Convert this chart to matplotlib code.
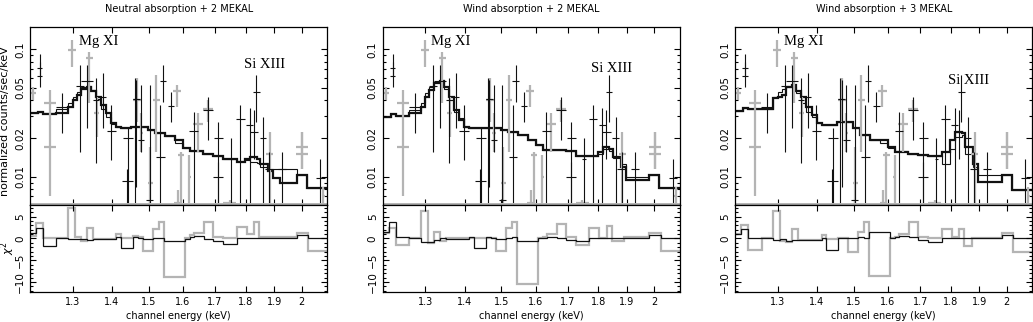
import numpy as np
import matplotlib
matplotlib.use("Agg")
import matplotlib.pyplot as plt
from matplotlib.ticker import FixedLocator, NullLocator, MultipleLocator

# --- spectra (same data in all three panels) ---
# black points: bin low/high edge (keV), value, error low/high (counts/s/keV)
blk_elo = [1.2163, 1.2163, 1.2606, 1.3090, 1.3213, 1.3505, 1.3676, 1.3863, 1.4290, 1.4263, 1.4562, 1.4700,
           1.4932, 1.5216, 1.5312, 1.5554, 1.4571, 1.6200, 1.6611, 1.6927, 1.6959, 1.7468, 1.7688, 1.8023,
           1.8136, 1.8251, 1.8482, 1.8657, 1.9130, 2.0561]
blk_ehi = [1.2286, 1.2286, 1.2887, 1.3296, 1.3505, 1.3676, 1.3849, 1.4112, 1.4562, 1.4562, 1.4700, 1.4885,
           1.5121, 1.5457, 1.5505, 1.5749, 1.4755, 1.6455, 1.6927, 1.7249, 1.7249, 1.7578, 1.7967, 1.8251,
           1.8424, 1.8482, 1.8716, 1.8952, 1.9432, 2.0886]
blk_val = [0.0617, 0.0709, 0.0355, 0.0515, 0.0564, 0.0400, 0.0425, 0.0228, 0.0200, 0.0092, 0.0407, 0.0194,
           0.0066, 0.0144, 0.0564, 0.0359, 0.0405, 0.0228, 0.0334, 0.0099, 0.0202, 0.0139, 0.0282, 0.0254,
           0.0226, 0.0465, 0.0202, 0.0116, 0.0116, 0.0097]
blk_lo = [0.0509, 0.0617, 0.0222, 0.0157, 0.0240, 0.0128, 0.0240, 0.0135, 0.0050, 0.0050, 0.0050, 0.0157,
          0.0050, 0.0050, 0.0388, 0.0270, 0.0083, 0.0050, 0.0194, 0.0050, 0.0050, 0.0050, 0.0050, 0.0050,
          0.0139, 0.0270, 0.0050, 0.0050, 0.0050, 0.0050]
blk_hi = [0.0913, 0.0800, 0.0451, 0.0753, 0.0753, 0.0592, 0.0648, 0.0365, 0.0240, 0.0116, 0.0592, 0.0525,
          0.0525, 0.0365, 0.0753, 0.0465, 0.0574, 0.0320, 0.0425, 0.0131, 0.0270, 0.0202, 0.0365, 0.0344,
          0.0334, 0.0629, 0.0296, 0.0157, 0.0157, 0.0139]

# grey points
gry_elo = [1.2000, 1.2317, 1.2317, 1.2894, 1.3338, 1.3548, 1.4562, 1.4746, 1.4979, 1.5121, 1.5710, 1.5749,
           1.5848, 1.6149, 1.6302, 1.6622, 1.7249, 1.8716, 1.9803, 1.9803, 2.0768]
gry_ehi = [1.2148, 1.2606, 1.2606, 1.3090, 1.3505, 1.3676, 1.4792, 1.4839, 1.5121, 1.5312, 1.5958, 1.5958,
           1.6048, 1.6251, 1.6611, 1.6938, 1.7688, 1.8952, 2.0243, 2.0243, 2.0886]
gry_val = [0.0451, 0.0377, 0.0172, 0.0988, 0.0859, 0.0314, 0.0400, 0.0220, 0.0090, 0.0400, 0.0474, 0.0062,
           0.0148, 0.0100, 0.0258, 0.0338, 0.0062, 0.0150, 0.0172, 0.0152, 0.0070]
gry_lo = [0.0400, 0.0296, 0.0070, 0.0731, 0.0377, 0.0206, 0.0270, 0.0157, 0.0050, 0.0157, 0.0355, 0.0050,
          0.0050, 0.0050, 0.0157, 0.0270, 0.0050, 0.0050, 0.0116, 0.0116, 0.0050]
gry_hi = [0.0509, 0.0480, 0.0296, 0.1184, 0.0960, 0.0425, 0.0592, 0.0314, 0.0172, 0.0629, 0.0525, 0.0079,
          0.0157, 0.0148, 0.0314, 0.0400, 0.0066, 0.0226, 0.0226, 0.0226, 0.0083]

# --- folded models (step curves) ---
model_edges = [1.2000, 1.2186, 1.2301, 1.2614, 1.2894, 1.3000, 1.3098, 1.3221, 1.3362, 1.3472, 1.3599,
               1.3728, 1.3858, 1.3989, 1.4121, 1.4254, 1.4525, 1.4989, 1.5178, 1.5466, 1.5759, 1.6008,
               1.6210, 1.6622, 1.6938, 1.7260, 1.7699, 1.7979, 1.8148, 1.8377, 1.8493, 1.8786, 1.8964,
               1.9203, 1.9816, 2.0192, 2.1000]

neutral2_thick = [0.0314, 0.0320, 0.0309, 0.0318, 0.0350, 0.0400, 0.0438, 0.0485, 0.0503, 0.0474, 0.0425,
                  0.0365, 0.0314, 0.0265, 0.0247, 0.0240, 0.0244, 0.0233, 0.0222, 0.0209, 0.0194, 0.0169,
                  0.0160, 0.0152, 0.0146, 0.0137, 0.0131, 0.0138, 0.0144, 0.0137, 0.0125, 0.0111, 0.0097,
                  0.0089, 0.0104, 0.0081]
neutral2_thin = [0.0314, 0.0320, 0.0314, 0.0338, 0.0377, 0.0425, 0.0465, 0.0509, 0.0515, 0.0480, 0.0405,
                 0.0338, 0.0292, 0.0259, 0.0244, 0.0240, 0.0244, 0.0233, 0.0222, 0.0209, 0.0185, 0.0167,
                 0.0160, 0.0152, 0.0146, 0.0137, 0.0134, 0.0135, 0.0131, 0.0129, 0.0120, 0.0114, 0.0114,
                 0.0114, 0.0104, 0.0081]
wind2_thick = [0.0296, 0.0309, 0.0301, 0.0314, 0.0350, 0.0425, 0.0479, 0.0541, 0.0568, 0.0503, 0.0425,
               0.0334, 0.0279, 0.0247, 0.0243, 0.0243, 0.0242, 0.0233, 0.0226, 0.0212, 0.0194, 0.0177,
               0.0162, 0.0162, 0.0160, 0.0145, 0.0145, 0.0157, 0.0172, 0.0164, 0.0144, 0.0120, 0.0094,
               0.0094, 0.0104, 0.0081]
wind2_thin = [0.0296, 0.0309, 0.0301, 0.0334, 0.0377, 0.0451, 0.0509, 0.0557, 0.0574, 0.0485, 0.0400,
              0.0324, 0.0287, 0.0247, 0.0243, 0.0243, 0.0242, 0.0233, 0.0226, 0.0212, 0.0194, 0.0177,
              0.0162, 0.0162, 0.0160, 0.0145, 0.0145, 0.0152, 0.0165, 0.0160, 0.0140, 0.0127, 0.0100,
              0.0100, 0.0104, 0.0081]
wind3_thick = [0.0328, 0.0344, 0.0338, 0.0338, 0.0417, 0.0425, 0.0438, 0.0503, 0.0525, 0.0474, 0.0425,
               0.0355, 0.0305, 0.0263, 0.0255, 0.0255, 0.0271, 0.0240, 0.0212, 0.0194, 0.0194, 0.0172,
               0.0157, 0.0151, 0.0148, 0.0145, 0.0157, 0.0194, 0.0226, 0.0219, 0.0172, 0.0127, 0.0091,
               0.0091, 0.0103, 0.0079]
wind3_thin = [0.0328, 0.0344, 0.0338, 0.0338, 0.0425, 0.0465, 0.0490, 0.0509, 0.0509, 0.0451, 0.0377,
              0.0320, 0.0292, 0.0263, 0.0255, 0.0255, 0.0271, 0.0240, 0.0212, 0.0194, 0.0185, 0.0167,
              0.0160, 0.0152, 0.0148, 0.0145, 0.0127, 0.0165, 0.0206, 0.0212, 0.0152, 0.0120, 0.0104,
              0.0104, 0.0103, 0.0079]

# --- residuals (sign * chi^2) ---
res_edges = [1.2000, 1.2148, 1.2301, 1.2614, 1.2894, 1.3057, 1.3221, 1.3362, 1.3514, 1.4121, 1.4254,
             1.4571, 1.4709, 1.4848, 1.5130, 1.5302, 1.5436, 1.6059, 1.6210, 1.6343, 1.6654, 1.6938,
             1.7260, 1.7699, 1.8035, 1.8285, 1.8470, 1.8727, 1.8905, 1.9816, 2.0256, 2.1000]

neutral2_res_blk = [1.15, 2.5, -1.7, 0.2, -0.2, -0.2, -0.2, -0.4, -0.1, 0.4, -2.1, 0.4, 0.2, -0.1, 0.2, 0.2,
                    -0.5, -0.1, 0.4, 0.6, -0.2, -0.5, -1.3, 0.0, 0.0, 0.0, 0.0, 0.2, 0.2, 0.85, 0.0]
neutral2_res_gry = [0.6, 3.5, 0.2, 0.2, 6.9, 0.4, -0.5, 2.4, -0.2, 1.0, 0.2, 0.6, 0.4, -2.8, 2.2, 3.7,
                    -8.8, 0.2, 0.8, 1.2, 3.7, 0.4, 0.0, 2.7, 1.0, 3.7, 0.4, 0.4, 0.4, 1.2, -2.8]
wind2_res_blk = [1.6, 3.7, 0.4, 0.0, -0.8, -0.8, -0.3, 0.0, -0.1, 0.3, -2.3, 0.3, 0.2, -0.1, 0.0, 0.3,
                 -0.6, 0.0, 0.2, 0.3, 0.0, -0.3, -0.5, 0.0, 0.0, 0.0, 0.0, 0.0, 0.2, 0.8, 0.0]
wind2_res_gry = [1.15, 2.5, -1.5, 0.0, 6.4, -1.0, 1.5, -0.5, 0.0, 0.0, 0.0, 0.2, 0.0, -2.8, 2.5, 3.7,
                 -10.5, 0.0, 0.4, 1.0, 3.3, 0.4, -1.5, 2.3, 0.2, 2.9, -0.5, -0.5, 0.4, 1.15, -2.8]
wind3_res_blk = [1.0, 2.2, 0.0, 0.0, -0.4, -0.2, -0.5, -0.3, -0.4, 0.2, -2.7, 0.2, 0.1, 0.0, 0.4, 0.2,
                 1.6, 0.0, 0.3, 0.5, 0.4, -0.4, -0.9, 0.0, 0.0, 0.0, 0.0, 0.1, 0.2, 0.8, 0.0]
wind3_res_gry = [1.0, 3.1, -2.7, 0.0, 6.4, -0.5, -0.9, 2.2, -0.4, 0.85, -0.2, 0.2, 0.0, -3.2, 1.6, 3.9,
                 -8.6, 0.0, 0.4, 1.0, 3.7, 0.4, 0.0, 2.2, 0.3, 2.2, -1.8, 0.0, 0.2, 1.2, -3.0]

titles = ["Neutral absorption + 2 MEKAL", "Wind absorption + 2 MEKAL", "Wind absorption + 3 MEKAL"]
models = [(neutral2_thick, neutral2_thin), (wind2_thick, wind2_thin), (wind3_thick, wind3_thin)]
resids = [(neutral2_res_blk, neutral2_res_gry), (wind2_res_blk, wind2_res_gry), (wind3_res_blk, wind3_res_gry)]
mg_pos = [(1.3156, 0.116), (1.3132, 0.115), (1.3156, 0.116)]
si_pos = [(1.7957, 0.0760), (1.7745, 0.0713), (1.7912, 0.0574)]

x_ticks = [1.3, 1.4, 1.5, 1.6, 1.7, 1.8, 1.9, 2.0]
x_ticklabels = ["1.3", "1.4", "1.5", "1.6", "1.7", "1.8", "1.9", "2"]

NARROW = ["Liberation Sans Narrow", "DejaVu Sans"]
BLACK = "#111111"
GREY = "#b4b4b4"


def crosses(ax, elo, ehi, val, lo, hi, color, lw):
    elo, ehi, val, lo, hi = map(np.asarray, (elo, ehi, val, lo, hi))
    xc = np.sqrt(elo * ehi)
    ax.errorbar(xc, val, xerr=[xc - elo, ehi - xc], yerr=[val - lo, hi - val],
                fmt="none", ecolor=color, elinewidth=lw, capsize=0)


def style_axes(ax):
    ax.tick_params(which="both", direction="in", top=True, right=True, width=0.8)
    ax.tick_params(which="major", length=4)
    ax.tick_params(which="minor", length=2)
    for s in ax.spines.values():
        s.set_linewidth(0.9)


fig = plt.figure(figsize=(10.33, 3.22), dpi=100)
lefts = [0.0290, 0.3705, 0.7115]

for i in range(3):
    ax = fig.add_axes([lefts[i], 0.3634, 0.2880, 0.5528])
    axr = fig.add_axes([lefts[i], 0.0932, 0.2880, 0.2702], sharex=ax)

    # spectrum panel
    crosses(ax, gry_elo, gry_ehi, gry_val, gry_lo, gry_hi, GREY, 1.6)
    crosses(ax, blk_elo, blk_ehi, blk_val, blk_lo, blk_hi, BLACK, 0.8)
    ax.axhline(0.00612, color=GREY, lw=1.4)
    thick, thin = models[i]
    ax.stairs(thin, model_edges, baseline=None, color=BLACK, lw=0.8)
    ax.stairs(thick, model_edges, baseline=None, color=BLACK, lw=1.6)

    ax.set_xscale("log")
    ax.set_yscale("log")
    ax.set_xlim(1.2, 2.1)
    ax.set_ylim(0.006, 0.15)
    ax.xaxis.set_major_locator(FixedLocator(x_ticks))
    ax.xaxis.set_minor_locator(NullLocator())
    ax.tick_params(axis="x", labelbottom=False)
    ax.yaxis.set_major_locator(FixedLocator([0.01, 0.02, 0.05, 0.1]))
    ax.yaxis.set_minor_locator(FixedLocator([0.006, 0.007, 0.008, 0.009, 0.03, 0.04,
                                             0.06, 0.07, 0.08, 0.09]))
    ax.set_yticklabels(["0.01", "0.02", "0.05", "0.1"], rotation=90, va="center",
                       fontsize=7.5, family="DejaVu Sans")
    ax.yaxis.set_minor_formatter(plt.NullFormatter())
    style_axes(ax)

    ax.text(*mg_pos[i], "Mg XI", family="Liberation Serif", fontsize=10.5, ha="left", va="center")
    ax.text(*si_pos[i], "Si XIII", family="Liberation Serif", fontsize=10.5, ha="left", va="center")

    # residual panel
    rb, rg = resids[i]
    axr.stairs(rg, res_edges, baseline=None, color=GREY, lw=1.6)
    axr.stairs(rb, res_edges, baseline=None, color=BLACK, lw=0.9)
    axr.set_ylim(-12.3, 7.7)
    axr.yaxis.set_major_locator(FixedLocator([-10, -5, 0, 5]))
    axr.yaxis.set_minor_locator(MultipleLocator(1))
    axr.set_yticklabels(["\u221210", "\u22125", "0", "5"], rotation=90, va="center",
                        fontsize=7.5, family="DejaVu Sans")
    axr.xaxis.set_major_locator(FixedLocator(x_ticks))
    axr.xaxis.set_minor_locator(NullLocator())
    axr.set_xticklabels(x_ticklabels, fontsize=7, family=NARROW)
    style_axes(axr)

    cx = lefts[i] + 0.2880 / 2
    fig.text(cx, 1 - 9 / 322, titles[i], ha="center", va="center", fontsize=7, family=NARROW)
    fig.text(cx, 1 - 316 / 322, "channel energy (keV)", ha="center", va="center",
             fontsize=7, family=NARROW)

fig.text(5 / 1033, 0.625, "normalized counts/sec/keV", rotation=90, ha="center", va="center",
         fontsize=8, family="DejaVu Sans")
fig.text(8 / 1033, 0.230, r"$\chi^2$", rotation=90, ha="center", va="center", fontsize=8)

fig.savefig("out.png", dpi=100)
